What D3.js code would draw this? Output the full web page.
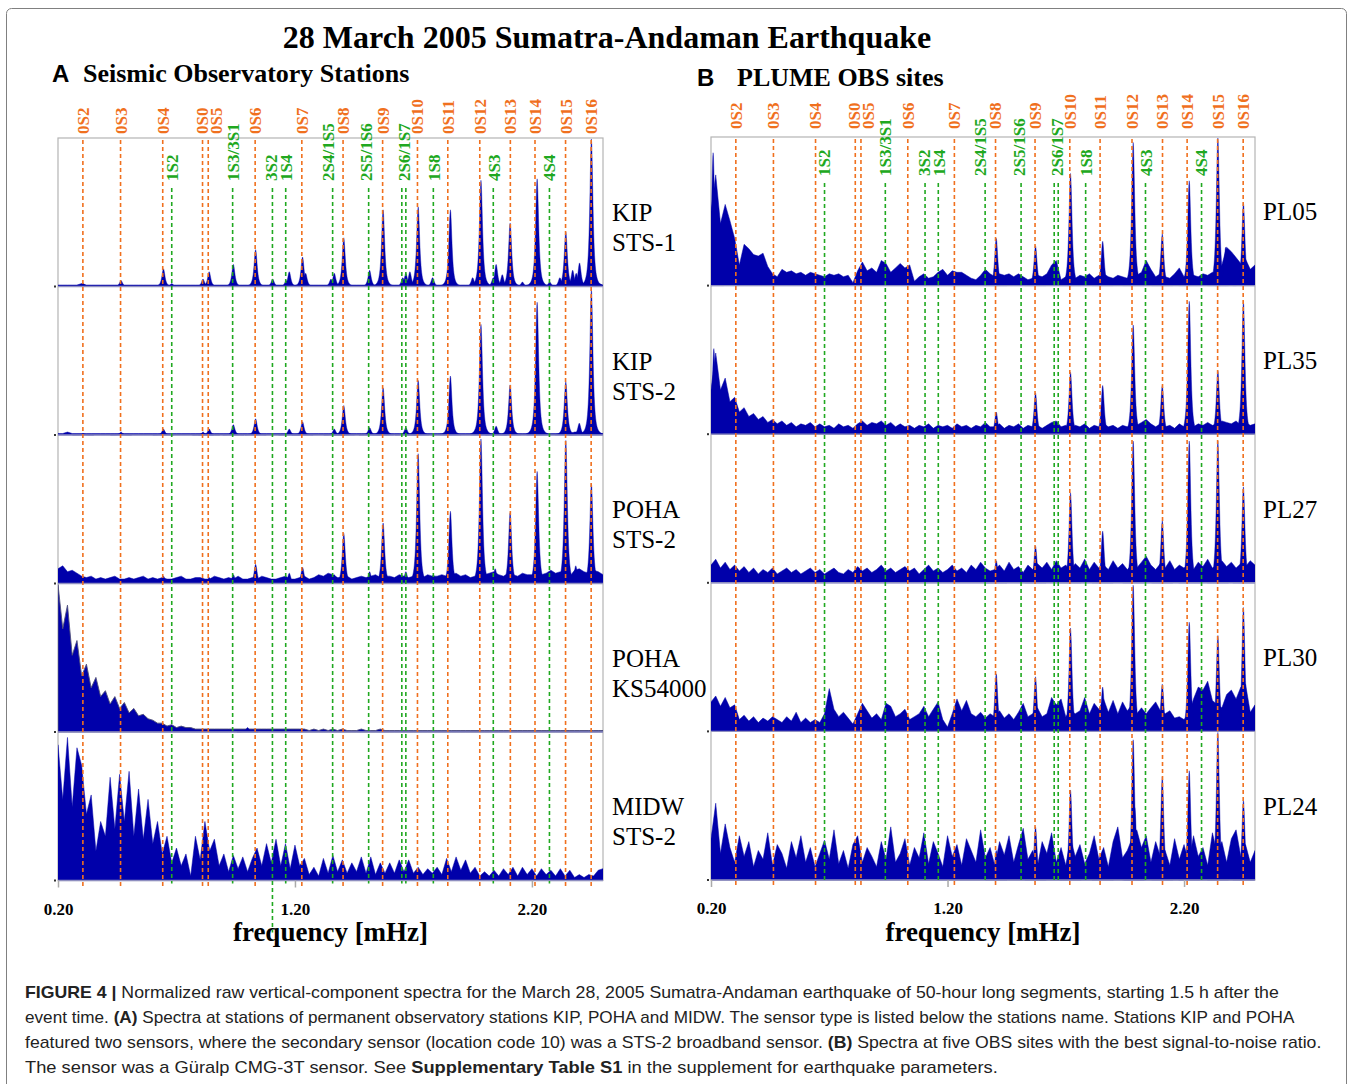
<!DOCTYPE html>
<html><head><meta charset="utf-8">
<script src="https://cdn.jsdelivr.net/npm/d3@7"></script>
<style>body{margin:0;background:#fff}svg{display:block}</style>
</head><body>
<svg id="c" width="1354" height="1084"></svg>
<script>
// ---------------- DATA ----------------
const titleText = "28 March 2005 Sumatra-Andaman Earthquake";
const panelTitles = ["Seismic Observatory Stations", "PLUME OBS sites"];
const panelLetters = ["A", "B"];
const tickValues = [0.20, 1.20, 2.20];
const tickLabels = ["0.20", "1.20", "2.20"];
const xLabel = "frequency [mHz]";

// fundamental spheroidal modes (orange)
const modeNames0S = ["0S2","0S3","0S4","0S0","0S5","0S6","0S7","0S8","0S9","0S10","0S11","0S12","0S13","0S14","0S15","0S16"];
const lineFreqs0S = [0.305,0.464,0.642,0.810,0.834,1.032,1.229,1.403,1.570,1.717,1.845,1.980,2.109,2.213,2.342,2.450];
const labelFreqs0S = [0.305,0.464,0.642,0.806,0.866,1.032,1.229,1.403,1.570,1.717,1.845,1.980,2.109,2.213,2.342,2.450];
const peakFreqs0S = [0.306,0.466,0.645,0.812,0.838,1.034,1.232,1.406,1.572,1.720,1.856,1.985,2.108,2.222,2.343,2.451];
// overtone modes (green)
const modeNamesOther = ["1S2","1S3/3S1","3S2","1S4","2S4/1S5","2S5/1S6","2S6/1S7","1S8","4S3","4S4"];
const labelFreqsOther = [0.680,0.937,1.099,1.163,1.338,1.501,1.662,1.786,2.039,2.274];
const lineFreqsOther = [0.680,0.937,1.105,1.161,1.359,1.511,1.651,1.668,1.784,2.037,2.274];

// noise floor sampled every 0.02 mHz from 0.20 to 2.50 (percent of panel height)
const noiseKIP1 = [1,1,1,1,1,2,1,1,1,1, 1,1,1,1,1,1,1,1,1,1, 1,1,1,1,1,1,1,1,1,1, 1,1,1,1,1,1,1,1,1,1,
  1,1,1,1,1,1,1,1,1,1, 1,1,1,1,1,1,1,1,1,1, 1,1,1,1,1,1,1,1,1,1, 1,1,1,1,1,1,1,1,1,1,
  1,1,1,1,1,1,1,1,1,1, 1,1,1,1,2,1,2,1,1,1, 1,1,1,1,1,1,1,2,1,2, 2,2,1,1,2,1];
const noiseKIP2 = [1,1,2,1,1,1,1,1,1,1, 1,1,1,1,1,1,1,1,1,1, 1,1,1,1,1,1,1,1,1,1, 1,1,1,1,1,1,1,1,1,1,
  1,1,1,1,1,1,1,1,1,1, 1,1,1,1,1,1,1,1,1,1, 1,1,1,1,1,1,1,1,1,1, 1,1,1,1,1,1,1,1,1,1,
  1,1,1,1,1,1,1,1,1,1, 1,1,1,1,1,1,2,1,1,1, 1,1,1,1,1,1,1,2,1,2, 2,1,1,1,1,1];
const noisePOHA2 = [10,12,8,9,7,5,4,5,3,4, 3,4,5,3,3,4,3,4,5,3, 4,3,4,3,3,4,5,3,3,4, 4,3,3,5,4,3,4,3,5,3,
  3,4,3,5,4,3,3,4,5,3, 3,4,5,3,4,6,5,7,6,4, 4,5,3,4,5,4,5,6,4,5, 5,4,6,5,4,5,6,4,6,5,
  5,6,5,6,7,5,6,4,5,6, 6,7,8,6,5,7,6,5,7,6, 6,8,6,7,9,7,8,6,5,9, 10,8,7,9,8,6];
const noisePOHAks = [100,70,86,52,62,38,46,30,37,24, 28,19,24,16,20,13,16,11,12,9, 8,6,6,4,5,3,4,3,3,2,
  2,2,2,2,2,2,2,2,2,2, 2,2,2,2,2,2,2,2,2,2, 2,2,2,1,2,1,2,1,2,1, 2,1,1,1,2,1,1,1,2,1,
  1,1,1,1,1,1,1,1,1,1, 1,1,1,1,1,1,1,1,1,1, 1,1,1,1,1,1,1,1,1,1, 1,1,1,1,1,1,1,1,1,1, 1,1,1,1,1,1];
const noiseMIDW = [92,55,97,50,90,78,45,58,20,40, 30,70,35,72,40,74,30,62,28,55, 25,40,18,30,12,22,10,18,3,30,
  14,40,20,28,10,18,6,17,8,16, 6,15,22,10,25,12,28,10,25,8, 24,10,15,4,9,3,15,5,17,6,
  14,5,12,6,16,5,16,4,12,5, 12,5,14,6,14,5,9,4,8,5, 9,4,15,6,16,7,14,5,9,3,
  6,3,7,3,8,4,9,3,9,4, 8,3,8,4,7,3,8,3,7,2, 4,2,4,3,7,8];
const noisePL05 = [50,75,42,55,44,32,14,28,25,21, 20,22,13,8,6,11,9,10,8,9, 7,9,8,7,6,8,7,8,6,7,
  2,10,16,10,12,9,17,15,9,12, 15,12,14,3,6,8,5,6,9,11, 7,10,9,9,7,5,4,7,11,8,
  6,8,7,8,6,8,6,4,5,7, 6,8,14,17,4,6,8,5,7,6, 8,5,7,8,6,5,7,6,5,8,
  7,9,17,11,6,8,6,5,8,12, 6,8,7,6,8,7,9,8,14,26, 23,19,15,18,11,14];
const noisePL35 = [30,55,30,38,22,25,15,18,12,14, 10,12,8,10,7,9,6,8,5,7, 6,8,5,7,5,6,4,7,5,6,
  4,7,9,6,8,7,9,6,8,5, 7,5,6,4,6,5,7,4,6,5, 6,4,7,5,6,4,6,5,8,5,
  5,7,4,6,5,7,4,6,5,6, 4,6,8,9,5,6,4,6,5,7, 4,6,5,7,5,6,4,6,5,7,
  6,8,10,7,5,7,5,6,4,7, 5,6,5,7,6,8,6,7,9,8, 7,9,6,8,6,7];
const noisePL27 = [12,16,10,14,9,12,8,11,7,10, 6,9,7,10,6,8,10,7,9,6, 8,10,7,9,6,8,10,7,6,9,
  7,11,8,10,7,9,12,8,10,7, 9,11,8,10,6,9,12,8,10,7, 9,12,8,10,7,12,9,14,10,8,
  9,12,8,14,9,11,7,12,9,13, 10,14,9,15,10,12,8,13,10,16, 9,14,10,12,9,15,10,13,9,12,
  10,14,18,12,9,13,10,15,9,12, 10,13,9,14,11,16,10,12,15,11, 14,10,13,11,15,12];
const noisePL30 = [20,24,17,23,16,18,8,11,7,10, 6,9,7,10,8,6,10,7,13,6, 9,6,8,6,12,29,15,10,13,9,
  5,12,19,14,9,12,8,19,17,10, 12,15,8,10,12,17,10,15,20,8, 3,12,22,14,21,12,10,13,9,12,
  10,14,9,12,8,13,19,10,12,16, 10,12,23,18,22,10,14,12,14,23, 12,19,15,22,13,21,12,20,14,18,
  12,16,12,16,20,14,12,14,9,10, 8,12,22,30,28,34,21,18,16,25, 28,22,30,32,13,18];
const noisePL24 = [28,52,18,38,22,12,30,16,26,9, 20,14,32,10,24,18,8,26,15,30, 12,22,9,18,27,14,34,11,20,8,
  24,30,12,22,16,9,26,14,36,12, 18,28,10,22,15,32,11,26,18,9, 30,16,24,10,28,20,12,34,15,22,
  10,26,17,30,12,24,35,14,20,9, 26,18,32,12,22,10,28,16,24,11, 18,30,14,22,9,26,36,15,20,28,
  34,22,30,12,26,16,20,10,28,14, 24,12,30,16,22,10,32,18,26,12, 28,34,16,24,12,20];

// peak heights of the 0S modes (same order as modeNames0S), percent of panel height
const ampKIP1 = [2,4,12,5,10,25,20,33,52,54,52,72,43,73,37,100];
const ampKIP2 = [1,2,4,2,4,11,9,20,32,37,40,75,34,90,36,99];
const ampPOHA2 = [3,3,5,3,4,13,11,34,41,88,49,98,48,76,97,68];
const ampPOHAks = [0,0,0,0,0,0,0,0,0,0,0,0,0,0,0,0];
const ampMIDW = [0,0,0,0,0,0,0,0,0,0,0,0,0,0,0,0];
const ampPL05 = [0,0,0,0,0,0,0,32,27,76,30,97,35,71,100,56];
const ampPL35 = [0,0,0,0,0,0,0,15,28,42,33,74,33,90,43,90];
const ampPL27 = [0,0,0,0,0,0,0,15,25,61,35,96,42,96,96,65];
const ampPL30 = [0,0,0,0,0,0,0,39,37,70,30,99,32,74,65,84];
const ampPL24 = [0,0,0,0,0,0,0,20,36,61,20,95,70,74,100,54];

// other peaks [frequency mHz, height %]
const extraKIP1 = [[0.680,2],[0.940,15],[1.106,5],[1.163,4],[1.176,10],[1.245,9],[1.352,5],[1.366,9],[1.515,11],[1.655,6],[1.668,9],[1.685,10],[1.781,6],[1.950,6],[2.037,6],[2.049,15],[2.075,8],[2.160,3],[2.275,3],[2.318,6],[2.372,11],[2.387,9],[2.401,16]];
const extraKIP2 = [[0.940,7],[1.176,4],[1.366,4],[1.515,5],[1.668,5],[2.049,6],[2.400,8]];
const extraPOHA2 = [[0.940,6],[1.176,7],[1.366,6],[1.515,8],[1.668,8],[1.784,6],[2.045,10],[2.385,12]];
const extraPOHAks = [[1.000,3]];
const extraMIDW = [];
const extraPL05 = [[0.209,90],[2.376,26]];
const extraPL35 = [[0.212,58]];
const extraPL27 = [];
const extraPL30 = [];
const extraPL24 = [[1.992,49]];

const stationsA = [["KIP","STS-1"],["KIP","STS-2"],["POHA","STS-2"],["POHA","KS54000"],["MIDW","STS-2"]];
const stationsB = [["PL05"],["PL35"],["PL27"],["PL30"],["PL24"]];

const captionLines = [
  [["FIGURE 4 | ",true],["Normalized raw vertical-component spectra for the March 28, 2005 Sumatra-Andaman earthquake of 50-hour long segments, starting 1.5 h after the",false]],
  [["event time. ",false],["(A)",true],[" Spectra at stations of permanent observatory stations KIP, POHA and MIDW. The sensor type is listed below the stations name. Stations KIP and POHA",false]],
  [["featured two sensors, where the secondary sensor (location code 10) was a STS-2 broadband sensor. ",false],["(B)",true],[" Spectra at five OBS sites with the best signal-to-noise ratio.",false]],
  [["The sensor was a Güralp CMG-3T sensor. See ",false],["Supplementary Table S1",true],[" in the supplement for earthquake parameters.",false]]
];

// ---------------- DRAW ----------------
const gridFreqs = d3.range(116).map(i => +(0.20 + 0.02 * i).toFixed(2));
const svg = d3.select("#c");
const serif = "'Liberation Serif','Times New Roman',serif";
const sans = "'Liberation Sans',Arial,Helvetica,sans-serif";
const ORANGE = "#f0701e", GREEN = "#20a820", BLUE = "#0000aa";

svg.append("rect").attr("x", 6.5).attr("y", 8.5).attr("width", 1340).attr("height", 1100)
  .attr("rx", 5).attr("fill", "none").attr("stroke", "#808080").attr("stroke-width", 1);

svg.append("text").attr("x", 607).attr("y", 48).attr("text-anchor", "middle")
  .attr("font-family", serif).attr("font-weight", "bold").attr("font-size", 32).text(titleText);

const panels = [
  {x0: 58, x1: 603, top: 138, rowH: 148.5, labelX: 612, lblShift: 0, hx: 52, hy: 82,
   rows: [
     {st: stationsA[0], noise: noiseKIP1, amp: ampKIP1, extra: extraKIP1},
     {st: stationsA[1], noise: noiseKIP2, amp: ampKIP2, extra: extraKIP2},
     {st: stationsA[2], noise: noisePOHA2, amp: ampPOHA2, extra: extraPOHA2},
     {st: stationsA[3], noise: noisePOHAks, amp: ampPOHAks, extra: extraPOHAks, ks: true},
     {st: stationsA[4], noise: noiseMIDW, amp: ampMIDW, extra: extraMIDW}]},
  {x0: 711, x1: 1255, top: 137, rowH: 148.6, labelX: 1263, lblShift: -5, hx: 697, hy: 86,
   rows: [
     {st: stationsB[0], noise: noisePL05, amp: ampPL05, extra: extraPL05},
     {st: stationsB[1], noise: noisePL35, amp: ampPL35, extra: extraPL35},
     {st: stationsB[2], noise: noisePL27, amp: ampPL27, extra: extraPL27},
     {st: stationsB[3], noise: noisePL30, amp: ampPL30, extra: extraPL30},
     {st: stationsB[4], noise: noisePL24, amp: ampPL24, extra: extraPL24}]}
];

const W_L = 0.010;
panels.forEach((P, pi) => {
  const g = svg.append("g");
  const x = d3.scaleLinear().domain([0.2, 2.5]).range([P.x0, P.x1]);
  const bottom = P.top + P.rowH * 5;

  // header
  g.append("text").attr("x", P.hx).attr("y", P.hy).attr("font-family", sans).attr("font-weight", "bold")
    .attr("font-size", 24).text(panelLetters[pi]);
  g.append("text").attr("x", P.hx + (pi === 0 ? 31 : 40)).attr("y", P.hy).attr("font-family", serif)
    .attr("font-weight", "bold").attr("font-size", 26).text(panelTitles[pi]);

  const clipId = "clip" + pi;
  svg.append("clipPath").attr("id", clipId).append("rect")
    .attr("x", P.x0).attr("y", P.top).attr("width", P.x1 - P.x0).attr("height", bottom - P.top + 1);

  // frame
  g.append("rect").attr("x", P.x0).attr("y", P.top).attr("width", P.x1 - P.x0).attr("height", bottom - P.top)
    .attr("fill", "none").attr("stroke", "#b4b4b4").attr("stroke-width", 1.2);

  const spec = g.append("g").attr("clip-path", `url(#${clipId})`);
  P.rows.forEach((R, ri) => {
    const base = P.top + P.rowH * (ri + 1);
    const y = d3.scaleLinear().domain([0, 100]).range([base, base - P.rowH + 1]).clamp(true);
    // noise floor
    const area = d3.area().x((d, i) => x(gridFreqs[i])).y0(base).y1(d => y(d));
    spec.append("path").attr("d", area(R.noise)).attr("fill", BLUE)
      .attr("stroke", R.ks ? "#50507a" : BLUE).attr("stroke-width", R.ks ? 0.9 : 0.5)
      .attr("stroke-linejoin", "round");
    // spectral peaks
    const peaks = [];
    R.amp.forEach((a, k) => { if (a > 0) peaks.push([peakFreqs0S[k], a]); });
    R.extra.forEach(p => peaks.push(p));
    const pArea = d3.area().x(d => x(d[0])).y0(base).y1(d => y(d[1]));
    peaks.forEach(([f0, a]) => {
      const pts = d3.range(-30, 31).map(k => {
        const f = f0 + k * 0.0015;
        const u = (f - f0) / W_L;
        return [f, a / Math.pow(1 + u * u, 1.5)];
      });
      spec.append("path").attr("d", pArea(pts)).attr("fill", BLUE).attr("stroke", BLUE).attr("stroke-width", 0.4);
    });
    // baseline
    g.append("line").attr("x1", P.x0).attr("x2", P.x1).attr("y1", base).attr("y2", base)
      .attr("stroke", "#8f8fc0").attr("stroke-width", 1.4);
    g.append("rect").attr("x", P.x0 - 4).attr("y", base - 1).attr("width", 2).attr("height", 2).attr("fill", "#333");
    // station label
    const mid = base - P.rowH / 2;
    R.st.forEach((s, si) => {
      g.append("text").attr("x", P.labelX).attr("y", mid + 9 + si * 30).attr("font-family", serif)
        .attr("font-size", 25).text(s);
    });
  });

  // dashed mode lines
  lineFreqs0S.forEach(f => {
    g.append("line").attr("x1", x(f)).attr("x2", x(f)).attr("y1", P.top + 2).attr("y2", bottom + 6)
      .attr("stroke", ORANGE).attr("stroke-width", 1.6).attr("stroke-dasharray", "4,3");
  });
  lineFreqsOther.forEach(f => {
    const yEnd = (pi === 0 && f === 1.105) ? bottom + 52 : bottom + 3;
    g.append("line").attr("x1", x(f)).attr("x2", x(f)).attr("y1", 188 + P.lblShift).attr("y2", yEnd)
      .attr("stroke", GREEN).attr("stroke-width", 1.6).attr("stroke-dasharray", "4,3");
  });
  // mode labels
  modeNames0S.forEach((n, k) => {
    const lx = x(labelFreqs0S[k]), ly = 134 + P.lblShift;
    g.append("text").attr("transform", `translate(${lx},${ly}) rotate(-90)`).attr("dy", "0.35em")
      .attr("font-family", serif).attr("font-weight", "bold").attr("font-size", 17).attr("fill", ORANGE).text(n);
  });
  modeNamesOther.forEach((n, k) => {
    const lx = x(labelFreqsOther[k]), ly = 181 + P.lblShift;
    g.append("text").attr("transform", `translate(${lx},${ly}) rotate(-90)`).attr("dy", "0.35em")
      .attr("font-family", serif).attr("font-weight", "bold").attr("font-size", 17).attr("fill", GREEN).text(n);
  });

  // x axis
  const ax = g.append("g").attr("transform", `translate(0,${bottom})`)
    .call(d3.axisBottom(x).tickValues(tickValues).tickFormat((d, i) => tickLabels[i]).tickSize(7).tickPadding(15));
  ax.select(".domain").remove();
  ax.selectAll(".tick line").attr("stroke", "#aaa").attr("stroke-width", 1.5);
  ax.selectAll(".tick text").attr("font-family", serif).attr("font-weight", "bold").attr("font-size", 17).attr("fill", "#000");
  g.append("text").attr("x", (P.x0 + P.x1) / 2).attr("y", 941).attr("text-anchor", "middle")
    .attr("font-family", serif).attr("font-weight", "bold").attr("font-size", 27).text(xLabel);
});

// caption
const capTargets = [1255, 1270, 1297, 973];
captionLines.forEach((line, li) => {
  const gy = 998 + li * 25;
  const cg = svg.append("g").attr("transform", `translate(25,${gy})`);
  const t = cg.append("text").attr("x", 0).attr("y", 0).attr("font-family", sans).attr("font-size", 16).attr("fill", "#222");
  line.forEach(([s, b]) => t.append("tspan").attr("font-weight", b ? "bold" : "normal").text(s));
  const len = t.node().getComputedTextLength();
  cg.attr("transform", `translate(25,${gy}) scale(${capTargets[li] / len},1)`);
});
</script>
</body></html>
